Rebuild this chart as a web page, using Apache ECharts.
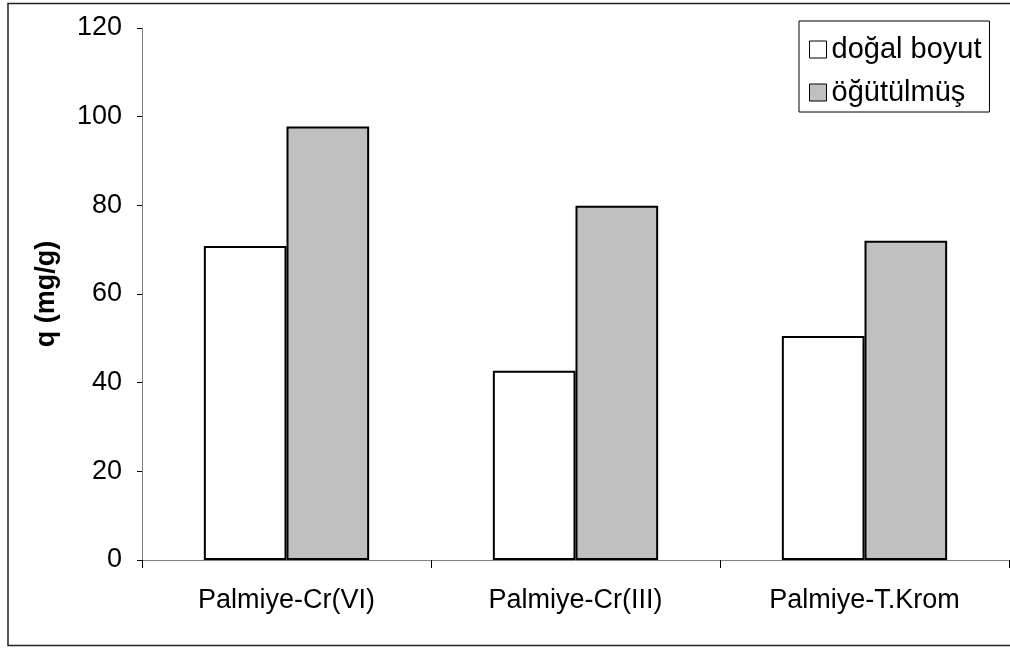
<!DOCTYPE html>
<html>
<head>
<meta charset="utf-8">
<script src="https://cdn.jsdelivr.net/npm/echarts@6/dist/echarts.min.js"></script>
<style>
  html, body { margin: 0; padding: 0; background: #fff; }
  #chart { width: 1010px; height: 648px; }
</style>
</head>
<body>
<div id="chart"></div>
<script>
// Adsorption capacity q (mg/g) for palm biomass, natural size vs. ground
const categories = ['Palmiye-Cr(VI)', 'Palmiye-Cr(III)', 'Palmiye-T.Krom'];
const seriesNames = ['doğal boyut', 'öğütülmüş'];
const dogalBoyut = [70.8, 42.7, 50.5];
const ogutulmus = [97.8, 79.9, 72.0];
const yTicks = { min: 0, max: 120, step: 20 };

const FONT = '"Liberation Sans", Arial, sans-serif';
const chart = echarts.init(document.getElementById('chart'), null, { renderer: 'canvas' });

chart.setOption({
  backgroundColor: '#fff',
  animation: false,
  textStyle: { fontFamily: FONT, color: '#000' },
  graphic: [{
    type: 'rect',
    shape: { x: 8, y: 3.5, width: 1020, height: 642 },
    style: { fill: 'none', stroke: '#222', lineWidth: 1.5 },
    silent: true,
    z: -1
  }],
  grid: { left: 142, top: 28, right: 1, bottom: 88, containLabel: false },
  legend: {
    orient: 'vertical',
    left: 799,
    top: 21,
    data: seriesNames,
    itemWidth: 17,
    itemHeight: 17,
    itemGap: 14,
    padding: [14, 8, 5, 10],
    borderColor: '#000',
    borderWidth: 1,
    icon: 'rect',
    textStyle: { fontFamily: FONT, fontSize: 29, color: '#000', lineHeight: 29 },
    itemStyle: { borderColor: '#000', borderWidth: 1 }
  },
  xAxis: {
    type: 'category',
    data: categories,
    axisLine: { lineStyle: { color: '#808080', width: 1 } },
    axisTick: { show: true, length: 8, lineStyle: { color: '#000' } },
    axisLabel: { fontFamily: FONT, fontSize: 27, color: '#000', margin: 27 }
  },
  yAxis: {
    type: 'value',
    min: yTicks.min,
    max: yTicks.max,
    interval: yTicks.step,
    name: 'q (mg/g)',
    nameLocation: 'middle',
    nameGap: 82,
    nameTextStyle: { fontFamily: FONT, fontSize: 27, fontWeight: 'bold', color: '#000' },
    axisLine: { show: true, lineStyle: { color: '#808080', width: 1 } },
    axisTick: { show: true, length: 5, lineStyle: { color: '#000' } },
    axisLabel: { fontFamily: FONT, fontSize: 27, color: '#000', margin: 20 },
    splitLine: { show: false }
  },
  series: [
    {
      name: seriesNames[0],
      type: 'bar',
      data: dogalBoyut,
      barGap: '0%',
      barCategoryGap: '42.8%',
      itemStyle: { color: '#ffffff', borderColor: '#000', borderWidth: 2 }
    },
    {
      name: seriesNames[1],
      type: 'bar',
      data: ogutulmus,
      itemStyle: { color: '#c0c0c0', borderColor: '#000', borderWidth: 2 }
    }
  ]
});
</script>
</body>
</html>
